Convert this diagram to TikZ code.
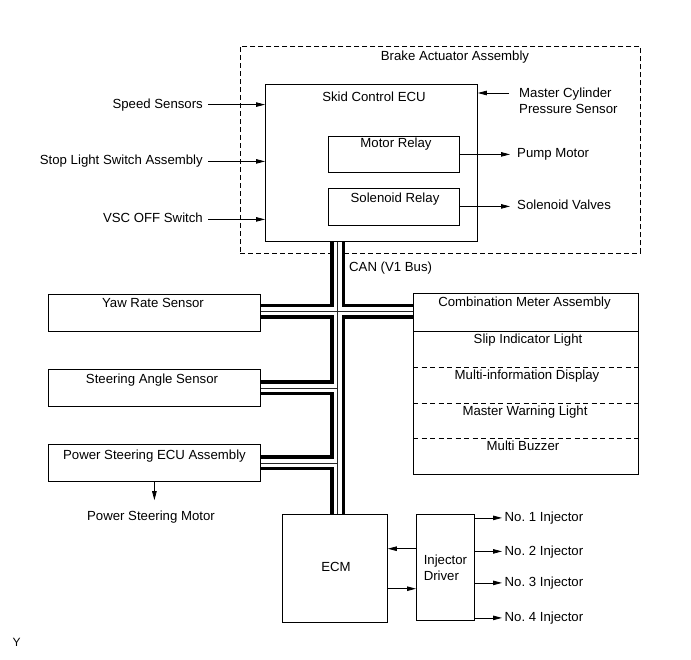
\documentclass[tikz,border=0pt]{standalone}
\usepackage{fontspec}
\setmainfont{Liberation Sans}
\usetikzlibrary{arrows.meta,calc}
\frenchspacing
\begin{document}
\begin{tikzpicture}[x=1pt,y=-1pt,
  every node/.style={font=\fontsize{13.2}{15.8}\selectfont, inner sep=0pt},
  lbl/.style={text height=9.6pt, text depth=2.4pt},
  box/.style={draw, line width=0.8pt, anchor=north west},
  dbox/.style={draw, line width=0.8pt, dash pattern=on 5pt off 3pt, anchor=north west},
  divline/.style={line width=0.8pt, dash pattern=on 5pt off 3.5pt},
  arr/.style={-{Triangle[length=9pt,width=4.5pt]}, line width=0.8pt},
  busA/.style={line width=15pt, black},
  busB/.style={line width=8pt, white},
  busC/.style={line width=0.7pt, black!85},
]
\useasboundingbox[fill=white] (0,0) rectangle (691,660);

% Brake actuator assembly
\node[dbox, minimum width=400pt, minimum height=207pt] (brake) at (240,46) {};
\node[anchor=base] (brakeT) at (455,61) {Brake Actuator Assembly};

\node[box, minimum width=212pt, minimum height=157pt] (skid) at (265,84) {};
\node[anchor=base] (skidT) at (374,101.5) {Skid Control ECU};

\node[box, minimum width=131pt, minimum height=36pt] (mrelay) at (328,136) {};
\node[anchor=base] (mrelayT) at (396,148) {Motor Relay};
\node[box, minimum width=131pt, minimum height=37pt] (srelay) at (328,188) {};
\node[anchor=base] (srelayT) at (395,202.5) {Solenoid Relay};

% Inputs on the left
\node[lbl, anchor=east] (speedT) at (203,104.6) {Speed Sensors};
\node[lbl, anchor=east] (stopT) at (203,161.4) {Stop Light Switch Assembly};
\node[lbl, anchor=east] (vscT) at (203,219.4) {VSC OFF Switch};
\draw[arr] ([xshift=5pt]speedT.east) -- (speedT.east -| skid.west);
\draw[arr] ([xshift=5pt]stopT.east) -- (stopT.east -| skid.west);
\draw[arr] ([xshift=5pt]vscT.east) -- (vscT.east -| skid.west);

% Right side of brake actuator
\node[anchor=north west, align=left] (master) at (519,87.6) {Master Cylinder\\Pressure Sensor};
\draw[arr] ([xshift=-10pt,yshift=-5.4pt]master.north west) -- ([yshift=-5.4pt]master.north west -| skid.east);
\node[lbl, anchor=west] (pumpT) at (517,154.4) {Pump Motor};
\node[lbl, anchor=west] (solvT) at (517,206.4) {Solenoid Valves};
\draw[arr] (pumpT.west -| mrelay.east) -- ([xshift=-7pt]pumpT.west);
\draw[arr] (solvT.west -| srelay.east) -- ([xshift=-7pt]solvT.west);

% Left boxes
\node[box, minimum width=212pt, minimum height=37pt] (yaw) at (48,294) {};
\node[anchor=base] (yawT) at (153,308) {Yaw Rate Sensor};
\node[box, minimum width=212pt, minimum height=37pt] (steer) at (48,369) {};
\node[anchor=base] (steerT) at (152,383) {Steering Angle Sensor};
\node[box, minimum width=212pt, minimum height=37pt] (ps) at (48,444) {};
\node[anchor=base] (psT) at (154.5,459) {Power Steering ECU Assembly};
\node[lbl, anchor=base] (psmT) at (151,520) {Power Steering Motor};
\draw[arr] (ps.south) -- ([yshift=10pt]psmT.north -| ps.south);

% Combination meter
\node[box, minimum width=225pt, minimum height=181pt] (comb) at (413,293) {};
\node[anchor=base] (combT) at (524.5,307) {Combination Meter Assembly};
\draw[line width=0.8pt] ([yshift=-38pt]comb.north west) -- ([yshift=-38pt]comb.north east);
\draw[divline] ([yshift=-74pt]comb.north west) -- ([yshift=-74pt]comb.north east);
\draw[divline] ([yshift=-110pt]comb.north west) -- ([yshift=-110pt]comb.north east);
\draw[divline] ([yshift=-145pt]comb.north west) -- ([yshift=-145pt]comb.north east);
\node[anchor=base] (slipT) at (528,344) {Slip Indicator Light};
\node[anchor=base] (midT) at (527,380) {Multi-information Display};
\node[anchor=base] (mwlT) at (525,415) {Master Warning Light};
\node[anchor=base] (mbT) at (523,450) {Multi Buzzer};

% ECM and injector driver
\node[box, minimum width=105pt, minimum height=108pt] (ecm) at (282,514) {};
\node[anchor=base] (ecmT) at (336,571) {ECM};
\node[box, minimum width=58pt, minimum height=106pt, align=left] (driver) at (416,514) {Injector\\Driver};
\draw[arr] ([yshift=18.7pt]driver.west) -- ([yshift=18.7pt]driver.west -| ecm.east);
\draw[arr] ([yshift=-21.3pt]driver.west -| ecm.east) -- ([yshift=-21.3pt]driver.west);

\node[lbl, anchor=west] (inj1) at (504.5,517.9) {No. 1 Injector};
\node[lbl, anchor=west] (inj2) at (504.5,551.4) {No. 2 Injector};
\node[lbl, anchor=west] (inj3) at (504.5,582.9) {No. 3 Injector};
\node[lbl, anchor=west] (inj4) at (504.5,617.9) {No. 4 Injector};
\foreach \i in {inj1,inj2,inj3,inj4}
  \draw[arr] (\i.west -| driver.east) -- ([xshift=-2.5pt]\i.west);

% CAN bus
\path (skid.south west) ++(72.5,0) coordinate (bt);
\path (bt |- ecm.north) coordinate (bb);
\path (yaw.east) ++(0,-1.5) coordinate (yb);
\foreach \s in {busA,busB,busC}{
  \draw[\s] (bt) -- (bb);
  \draw[\s] (yb) -- (yb -| comb.west);
  \draw[\s] (steer.east) -- (steer.east -| bt);
  \draw[\s] (ps.east) -- (ps.east -| bt);
}
\node[anchor=base west] (canT) at (349,272) {CAN (V1 Bus)};

\node[anchor=base, font=\fontsize{12}{14}\selectfont] (yT) at (16.7,646.5) {Y};
\end{tikzpicture}
\end{document}
